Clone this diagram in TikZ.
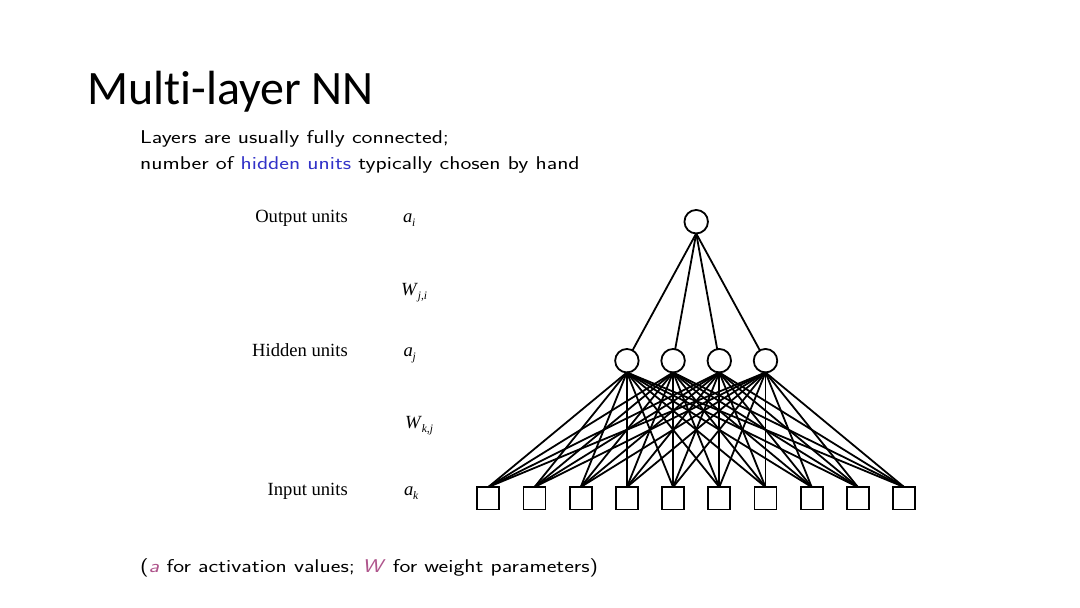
\documentclass[tikz,border=0pt]{standalone}
\usepackage{graphicx}
\usepackage{fontspec}
\setmainfont{Liberation Serif}
\newfontfamily\titlefont[Ligatures=NoCommon]{Carlito}
\definecolor{hblue}{RGB}{50,50,200}
\definecolor{apink}{RGB}{175,85,140}
\tikzset{
  unit/.style={circle,draw,line width=1.8pt,minimum size=23.5pt,inner sep=0pt,outer sep=0pt},
  inp/.style={rectangle,draw,line width=1.8pt,minimum width=22pt,minimum height=22.5pt,inner sep=0pt,outer sep=0pt},
  wire/.style={line width=1.8pt},
  txt/.style={inner sep=0pt,anchor=base west},
  lab/.style={inner sep=0pt,anchor=base east,font=\fontsize{18.6}{20}\selectfont},
  sym/.style={inner sep=0pt,anchor=base west,font=\fontsize{18.6}{20}\selectfont},
  slide/.style={inner sep=0pt,anchor=base west,font=\sffamily\fontsize{18.5}{20}\selectfont}
}
\newcommand{\subsc}[1]{\kern-0.3pt\raisebox{-0.22em}{\fontsize{11.5}{12}\selectfont\textit{#1}}}
\newcommand{\wide}[1]{\scalebox{1.25}[1]{#1}}
\begin{document}
\begin{tikzpicture}[x=1pt,y=-1pt]
\useasboundingbox[fill=white] (0,0) rectangle (1080,608);
% title
\node[txt] (title) at (87,104.3) {\titlefont\fontsize{48}{48}\selectfont Multi-layer NN};
% slide text
\node[slide] (l1) at (140,143.3) {\wide{Layers are usually fully connected;}};
\node[slide] (l2) at (140,169.3) {\wide{number of \textcolor{hblue}{hidden units} typically chosen by hand}};
\node[slide] (l3) at (140,572.3) {\wide{(\textcolor{apink}{\textit{a}} for activation values; \textcolor{apink}{\textit{W}} for weight parameters)}};
% labels
\node[lab] (lo) at (348,222.3) {Output units};
\node[lab] (lh) at (348,356.7) {Hidden units};
\node[lab] (li) at (348,495.7) {Input units};
\node[sym] (ai) at (403,222.3) {\textit{a}\subsc{i}};
\node[sym] (wji) at (401,295) {\textit{W}\subsc{j,i}};
\node[sym] (aj) at (403.3,356.7) {\textit{a}\subsc{j}};
\node[sym] (wkj) at (405,428.3) {\textit{W}\subsc{k,j}};
\node[sym] (ak) at (404,495.7) {\textit{a}\subsc{k}};
% network
\node[unit] (o) at (696.2,221.7) {};
\foreach \h in {1,...,4} {
  \node[unit] (h\h) at ({626.9+46.2*(\h-1)},360.7) {};
}
\foreach \k in {1,...,10} {
  \node[inp] (x\k) at ({488.3+46.2*(\k-1)},498.3) {};
}
\foreach \h in {1,...,4} {
  \draw[wire] (o.south) -- (h\h);
  \foreach \k in {1,...,10} {
    \draw[wire] (h\h.south) -- (x\k.north);
  }
}
\end{tikzpicture}
\end{document}
